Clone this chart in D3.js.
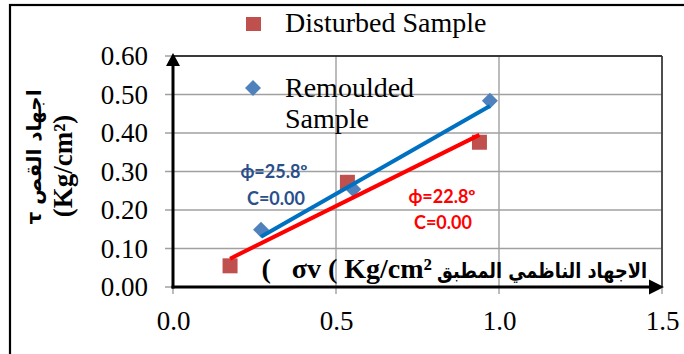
<!DOCTYPE html>
<html>
<head>
<meta charset="utf-8">
<script src="https://cdn.jsdelivr.net/npm/d3@7"></script>
<style>
  body { margin: 0; background: #fff; }
  svg { display: block; }
</style>
</head>
<body>
<div id="chart"></div>
<script>
  // data
  var disturbedX = [0.175, 0.535, 0.94];
  var disturbedY = [0.055, 0.272, 0.376];
  var remouldedX = [0.27, 0.553, 0.972];
  var remouldedY = [0.149, 0.254, 0.484];
  var phiDisturbed = 22.8, phiRemoulded = 25.8;   // C = 0.00 for both
  var xTicks = [0.0, 0.5, 1.0, 1.5];
  var yTicks = [0.0, 0.1, 0.2, 0.3, 0.4, 0.5, 0.6];

  var W = 684, H = 354;
  var margin = {top: 56, right: 22, bottom: 67, left: 173},
      width = W - margin.left - margin.right,
      height = H - margin.top - margin.bottom;

  var svg = d3.select("#chart").append("svg")
    .attr("width", W).attr("height", H);

  // outer chart border (only top and left are inside the picture)
  svg.append("rect")
    .attr("x", 10).attr("y", 5).attr("width", 700).attr("height", 400)
    .attr("fill", "none").attr("stroke", "#000").attr("stroke-width", 2.2);

  var g = svg.append("g")
    .attr("transform", "translate(" + margin.left + "," + margin.top + ")");

  var x = d3.scaleLinear().domain([0, 1.5]).range([0, width]);
  var y = d3.scaleLinear().domain([0, 0.6]).range([height, 0]);

  // gridlines + little outside ticks
  g.selectAll(".hgrid").data(yTicks).enter().append("line")
    .attr("x1", -8).attr("x2", width)
    .attr("y1", function(d){ return y(d); }).attr("y2", function(d){ return y(d); })
    .attr("stroke", "#a0a0a0").attr("stroke-width", 1.4);
  g.selectAll(".vgrid").data(xTicks).enter().append("line")
    .attr("x1", function(d){ return x(d); }).attr("x2", function(d){ return x(d); })
    .attr("y1", 0).attr("y2", height + 7)
    .attr("stroke", "#a0a0a0").attr("stroke-width", 1.4);

  // plot area border top/right
  g.append("line").attr("x1", 0).attr("x2", width).attr("y1", 0).attr("y2", 0)
    .attr("stroke", "#111").attr("stroke-width", 1.6);
  g.append("line").attr("x1", width).attr("x2", width).attr("y1", 0).attr("y2", height)
    .attr("stroke", "#333").attr("stroke-width", 1.6);

  // tick labels via axes
  var yAxis = g.append("g")
    .call(d3.axisLeft(y).tickValues(yTicks).tickFormat(d3.format(".2f")).tickSize(0).tickPadding(25));
  var xAxis = g.append("g").attr("transform", "translate(0," + height + ")")
    .call(d3.axisBottom(x).tickValues(xTicks).tickFormat(d3.format(".1f")).tickSize(0).tickPadding(24));
  [yAxis, xAxis].forEach(function(a) {
    a.select(".domain").remove();
    a.selectAll("text")
      .attr("fill", "#000")
      .style("font-family", "'Liberation Serif', 'Times New Roman', serif")
      .style("font-size", "27px");
  });
  xAxis.selectAll("text").attr("dy", "0.71em");

  // trend lines, through origin with slope tan(phi)
  function trend(xs, phi) {
    var k = Math.tan(phi * Math.PI / 180);
    var e = d3.extent(xs);
    return [[e[0], k * e[0]], [e[1], k * e[1]]];
  }
  var line = d3.line().x(function(d){ return x(d[0]); }).y(function(d){ return y(d[1]); });

  // markers
  g.selectAll(".dist").data(d3.zip(disturbedX, disturbedY)).enter().append("rect")
    .attr("x", function(d){ return x(d[0]) - 7.5; })
    .attr("y", function(d){ return y(d[1]) - 7.5; })
    .attr("width", 15).attr("height", 15)
    .attr("fill", "#c0504d");
  g.selectAll(".rem").data(d3.zip(remouldedX, remouldedY)).enter().append("path")
    .attr("transform", function(d){ return "translate(" + x(d[0]) + "," + y(d[1]) + ")"; })
    .attr("d", "M0,-8L8,0L0,8L-8,0Z")
    .attr("fill", "#4f81bd");

  g.append("path").datum(trend(remouldedX, phiRemoulded))
    .attr("d", line).attr("fill", "none").attr("stroke", "#0070c0").attr("stroke-width", 4);
  g.append("path").datum(trend(disturbedX, phiDisturbed))
    .attr("d", line).attr("fill", "none").attr("stroke", "#ff0000").attr("stroke-width", 4);

  // axes with arrows
  g.append("line").attr("x1", 0).attr("x2", 0).attr("y1", height + 1.5).attr("y2", 10)
    .attr("stroke", "#000").attr("stroke-width", 3);
  g.append("path").attr("d", "M0,-3L7,10L-7,10Z").attr("fill", "#000");
  g.append("line").attr("x1", -1.5).attr("x2", width - 12).attr("y1", height).attr("y2", height)
    .attr("stroke", "#000").attr("stroke-width", 3);
  g.append("path")
    .attr("d", "M" + (width + 2) + "," + height + "L" + (width - 13) + "," + (height - 7.5) +
               "L" + (width - 13) + "," + (height + 7.5) + "Z")
    .attr("fill", "#000");

  // annotations
  var ann = [
    {t: "ϕ=25.8º", cx: 274, by: 178, c: "#2a4f8a"},
    {t: "C=0.00",  cx: 276, by: 205, c: "#2a4f8a"},
    {t: "ϕ=22.8º", cx: 442, by: 203, c: "#ff0000"},
    {t: "C=0.00",  cx: 443, by: 229, c: "#ff0000"}
  ];
  svg.selectAll(".ann").data(ann).enter().append("text")
    .attr("x", function(d){ return d.cx; }).attr("y", function(d){ return d.by; })
    .attr("text-anchor", "middle")
    .attr("fill", function(d){ return d.c; })
    .style("font-family", "Lato, 'Open Sans', sans-serif")
    .style("font-weight", "bold").style("font-size", "18px")
    .text(function(d){ return d.t; });

  // legend
  svg.append("rect").attr("x", 246).attr("y", 17).attr("width", 15).attr("height", 14).attr("fill", "#c0504d");
  svg.append("path").attr("transform", "translate(253,88)").attr("d", "M0,-8L8,0L0,8L-8,0Z").attr("fill", "#4f81bd");
  var legText = svg.append("g")
    .style("font-family", "'Liberation Serif', 'Times New Roman', serif")
    .style("font-size", "28px").attr("fill", "#000");
  legText.append("text").attr("x", 285).attr("y", 32).text("Disturbed Sample");
  legText.append("text").attr("x", 285).attr("y", 97).text("Remoulded");
  legText.append("text").attr("x", 285).attr("y", 128).text("Sample");

  // y axis title
  var yt = svg.append("g").attr("font-weight", "bold").attr("fill", "#000");
  yt.append("text")
    .attr("transform", "translate(41,157) rotate(-90)")
    .attr("text-anchor", "middle")
    .attr("direction", "rtl")
    .style("font-family", "'DejaVu Sans', sans-serif").style("font-size", "20px")
    .text("اجهاد القص τ");
  yt.append("text")
    .attr("transform", "translate(72,166) rotate(-90)")
    .attr("text-anchor", "middle")
    .style("font-family", "'Liberation Serif', serif").style("font-size", "27px")
    .text("(Kg/cm²)");

  // x axis title: latin part and arabic part placed side by side
  var xt = svg.append("g").attr("font-weight", "bold").attr("fill", "#000");
  xt.append("text")
    .attr("x", 432).attr("y", 278)
    .attr("text-anchor", "end")
    .style("white-space", "pre")
    .style("font-family", "'Liberation Serif', serif").style("font-size", "28px")
    .text("(   σv ( Kg/cm²");
  xt.append("text")
    .attr("x", 437).attr("y", 278)
    .attr("text-anchor", "start")
    .attr("textLength", 210).attr("lengthAdjust", "spacingAndGlyphs")
    .style("font-family", "'DejaVu Sans', sans-serif").style("font-size", "21px")
    .text("الاجهاد الناظمي المطبق");
</script>
</body>
</html>
